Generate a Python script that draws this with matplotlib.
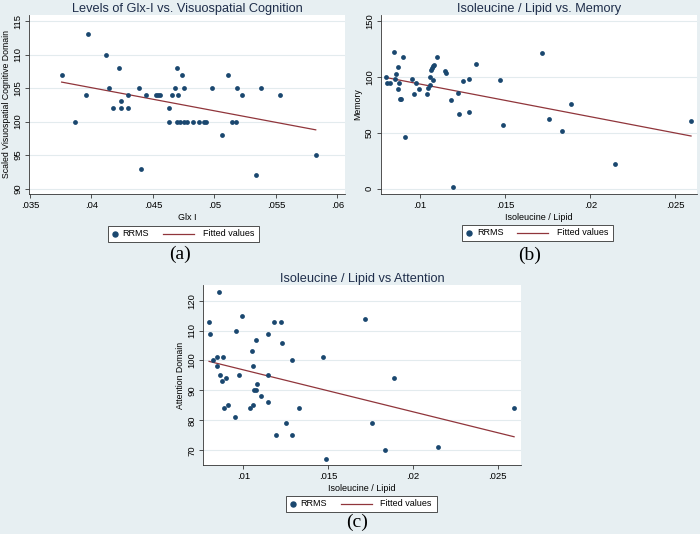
import numpy as np
import matplotlib
matplotlib.use("Agg")
import matplotlib.pyplot as plt
from matplotlib.lines import Line2D
from matplotlib.patches import Rectangle

plt.rcParams['font.family'] = ['Liberation Sans', 'DejaVu Sans']

# Panel (a): Glx-I vs visuospatial cognition
glx = [0.03758, 0.03869, 0.03956, 0.03972, 0.04116, 0.04145, 0.04178, 0.04227, 0.04238,
       0.04238, 0.04294, 0.04297, 0.04384, 0.04403, 0.04441, 0.04528, 0.04541, 0.04555,
       0.04631, 0.04631, 0.04652, 0.04679, 0.04693, 0.04693, 0.04704, 0.04720, 0.04734,
       0.04750, 0.04755, 0.04774, 0.04823, 0.04872, 0.04915, 0.04934, 0.04980, 0.05059,
       0.05111, 0.05146, 0.05179, 0.05187, 0.05222, 0.05338, 0.05379, 0.05536, 0.05824]
visuo = [107, 100, 104, 113, 110, 105, 102, 108, 103,
         102, 104, 102, 105, 93, 104, 104, 104, 104,
         102, 100, 104, 105, 108, 100, 104, 100, 107,
         105, 100, 100, 100, 100, 100, 100, 105, 98,
         107, 100, 100, 105, 104, 92, 105, 104, 95]

# Panel (b): isoleucine/lipid vs memory
iso_b = [0.00798, 0.00804, 0.00824, 0.00849, 0.00851, 0.00859, 0.00867, 0.00867, 0.00875,
         0.00882, 0.00890, 0.00900, 0.00910, 0.00953, 0.00961, 0.00975, 0.00996, 0.01039,
         0.01049, 0.01059, 0.01059, 0.01061, 0.01071, 0.01073, 0.01078, 0.01084, 0.01102,
         0.01149, 0.01151, 0.01180, 0.01192, 0.01220, 0.01229, 0.01253, 0.01290, 0.01290,
         0.01331, 0.01469, 0.01488, 0.01718, 0.01757, 0.01835, 0.01886, 0.02147, 0.02592]
memory = [100, 95, 95, 122, 98, 103, 109, 89, 95,
          80, 80, 118, 46, 98, 85, 95, 89.5, 85,
          90, 100, 93, 106, 108, 97.5, 110, 111, 118,
          105, 103.5, 79, 1.5, 86, 67, 96, 98, 69,
          112, 97.5, 57, 121.5, 62.5, 52, 76, 22, 60.5]

# Panel (c): isoleucine/lipid vs attention
iso_c = [0.00798, 0.00803, 0.00821, 0.00847, 0.00847, 0.00857, 0.00864, 0.00872, 0.00880,
         0.00888, 0.00900, 0.00910, 0.00953, 0.00959, 0.00972, 0.00994, 0.01039, 0.01049,
         0.01059, 0.01059, 0.01063, 0.01077, 0.01073, 0.01083, 0.01102, 0.01147, 0.01147,
         0.01147, 0.01181, 0.01191, 0.01220, 0.01228, 0.01252, 0.01289, 0.01289, 0.01330,
         0.01468, 0.01489, 0.01719, 0.01757, 0.01837, 0.01888, 0.02148, 0.02596]
attention = [113, 109, 100, 101, 98, 123, 95, 93, 101,
             84, 94, 85, 81, 110, 95, 115, 84, 103,
             98, 85, 90, 90, 107, 92, 88, 109, 95,
             86, 113, 75, 113, 106, 79, 100, 75, 84,
             101, 67, 114, 79, 70, 94, 71, 84]

xticks_a = [0.035, 0.04, 0.045, 0.05, 0.055, 0.06]
xticklabels_a = ['.035', '.04', '.045', '.05', '.055', '.06']
yticks_a = [90, 95, 100, 105, 110, 115]
xticks_bc = [0.01, 0.015, 0.02, 0.025]
xticklabels_bc = ['.01', '.015', '.02', '.025']
yticks_b = [0, 50, 100, 150]
yticks_c = [70, 80, 90, 100, 110, 120]
legend_labels = ['RRMS', 'Fitted values']

bg = '#e7eff2'
dot_color = '#1a476f'
fit_color = '#90353b'
W, H = 700, 534


def fx(px):
    return px / W


def fy(py):
    return (H - py) / H


def px_axes(fig, left, top, right, bottom):
    return fig.add_axes([fx(left), fy(bottom), (right - left) / W, (bottom - top) / H])


def panel(ax, x, y, title, xlabel, ylabel, xlim, ylim, xticks, xticklabels, yticks):
    ax.set_facecolor('white')
    for yt in yticks:
        ax.axhline(yt, color='#e3ebee', lw=0.8, zorder=0)
    ax.scatter(x, y, s=12, color=dot_color, zorder=3, linewidths=0)
    # linear fit (Stata "Fitted values")
    slope, intercept = np.polyfit(x, y, 1)
    xs = np.array([min(x), max(x)])
    ax.plot(xs, intercept + slope * xs, color=fit_color, lw=0.9, zorder=2)
    ax.set_xlim(*xlim)
    ax.set_ylim(*ylim)
    ax.set_xticks(xticks)
    ax.set_xticklabels(xticklabels)
    ax.set_yticks(yticks)
    ax.set_yticklabels([str(v) for v in yticks], rotation=90, va='center')
    ax.tick_params(labelsize=6.8, length=3, width=0.6, color='#333333', pad=2)
    for side in ['top', 'right']:
        ax.spines[side].set_visible(False)
    for side in ['left', 'bottom']:
        ax.spines[side].set_linewidth(0.6)
        ax.spines[side].set_color('#333333')
    ax.set_title(title, fontsize=9.2, color='#1e2d4a', pad=2)
    ax.set_xlabel(xlabel, fontsize=6.5, labelpad=2)
    ax.set_ylabel(ylabel, fontsize=6.3, labelpad=2)


def legend_and_tag(fig, x0, y0, tag, tag_x, tag_y):
    # Stata-style key box drawn below the plot, in pixel units
    w, h = 151, 16
    fig.patches.append(Rectangle((fx(x0), fy(y0 + h)), w / W, h / H, transform=fig.transFigure,
                                 facecolor='white', edgecolor='#333333', lw=0.6))
    yc = fy(y0 + h / 2)
    fig.lines.append(Line2D([fx(x0 + 7)], [yc], marker='o', ls='none', color=dot_color,
                            markersize=3.6, transform=fig.transFigure))
    fig.text(fx(x0 + 15), yc, legend_labels[0], fontsize=6.5, va='center', ha='left')
    fig.lines.append(Line2D([fx(x0 + 55), fx(x0 + 86)], [yc, yc], color=fit_color, lw=0.9,
                            transform=fig.transFigure))
    fig.text(fx(x0 + 95), yc, legend_labels[1], fontsize=6.5, va='center', ha='left')
    fig.text(fx(tag_x), fy(tag_y), tag, ha='center', va='center',
             fontsize=14, family='Liberation Serif')


fig = plt.figure(figsize=(7, 5.34), dpi=100)
fig.patch.set_facecolor(bg)

ax_a = px_axes(fig, 29.3, 15, 345, 194)
panel(ax_a, glx, visuo, 'Levels of Glx-I vs. Visuospatial Cognition', 'Glx I',
      'Scaled Visuospatial Cognitive Domain', (0.03495, 0.06062), (89.2, 115.9),
      xticks_a, xticklabels_a, yticks_a)
legend_and_tag(fig, 107.5, 225.5, '(a)', 180, 254)

ax_b = px_axes(fig, 381, 15, 697, 194)
panel(ax_b, iso_b, memory, 'Isoleucine / Lipid vs. Memory', 'Isoleucine / Lipid',
      'Memory', (0.0077, 0.02627), (-4.7, 155.4),
      xticks_bc, xticklabels_bc, yticks_b)
legend_and_tag(fig, 462, 224.5, '(b)', 530, 255)

ax_c = px_axes(fig, 203.3, 285, 520.7, 465)
panel(ax_c, iso_c, attention, 'Isoleucine / Lipid vs Attention', 'Isoleucine / Lipid',
      'Attention Domain', (0.00764, 0.02635), (65.1, 125.2),
      xticks_bc, xticklabels_bc, yticks_c)
legend_and_tag(fig, 285.5, 495.5, '(c)', 357, 522)

fig.savefig('out.png', dpi=100, facecolor=bg)
